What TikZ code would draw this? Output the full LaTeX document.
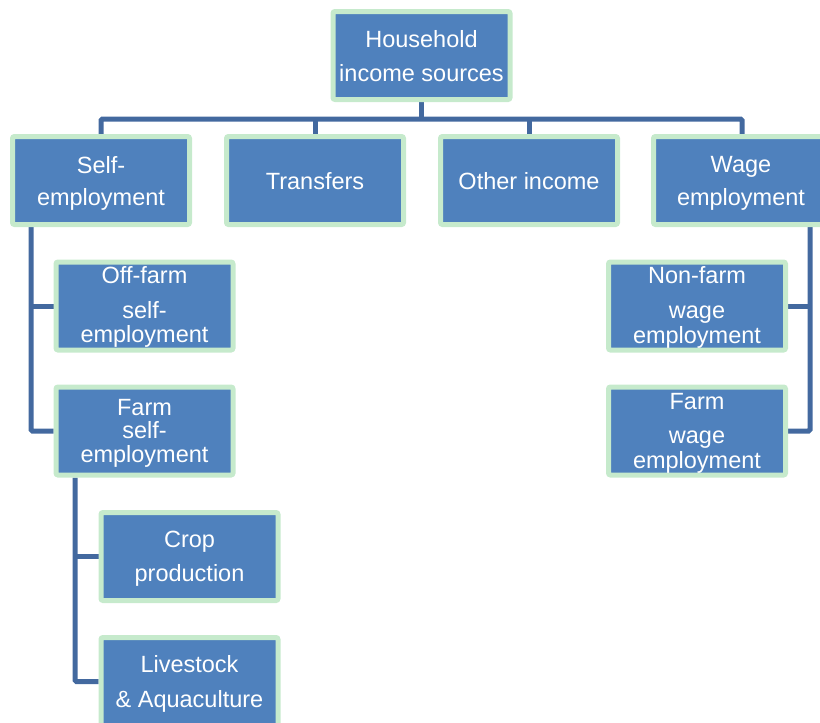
\documentclass[tikz,border=0pt]{standalone}
\usepackage{fontspec}
\setmainfont{Liberation Sans}
\usetikzlibrary{backgrounds}
\definecolor{boxblue}{HTML}{4F81BD}
\definecolor{boxgreen}{HTML}{C6EACC}
\definecolor{connblue}{HTML}{43699F}
\tikzset{
  box/.style={rectangle, rounded corners=2pt, fill=boxblue, draw=boxgreen, line width=5pt,
              minimum width=177pt, minimum height=88pt, inner sep=0pt},
  txt/.style={anchor=base, text=white, inner sep=0pt,
              font=\fontsize{23.5pt}{26pt}\selectfont},
  conn/.style={draw=connblue, line width=5pt, rounded corners=1.5pt}
}
\begin{document}
\begin{tikzpicture}[x=1pt, y=-1pt]
\useasboundingbox (0,0) rectangle (820,723);
\clip (0,0) rectangle (820,723);
% boxes
\node[box] (root) at (421.5,55.5) {};
\node[box] (se) at (101,180.5) {};
\node[box] (tr) at (315,180.5) {};
\node[box] (oi) at (529,180.5) {};
\node[box, minimum width=182pt] (we) at (744.5,180.5) {};
\node[box] (of) at (144.5,306) {};
\node[box] (fs) at (144.5,431) {};
\node[box] (nf) at (697,306) {};
\node[box] (fw) at (697,431) {};
\node[box] (cp) at (189.5,556.5) {};
\node[box] (la) at (189.5,681.5) {};
% coordinates
\coordinate (busy) at (0,119);
\coordinate (lx) at (31,0);
\coordinate (rx) at (810,0);
\coordinate (fx) at (75,0);
\coordinate (wx) at (742,0);
% connectors
\begin{scope}[on background layer]
\draw[conn] (root.south) -- (root.south |- busy);
\draw[conn] (se.north) |- (wx |- busy) -- (wx |- we.north);
\draw[conn] (tr.north) -- (tr.north |- busy);
\draw[conn] (oi.north) -- (oi.north |- busy);
\draw[conn] (se.south -| lx) |- (fs.west);
\draw[conn] (of.west) -- (of.west -| lx);
\draw[conn] (we.south -| rx) |- (fw.east);
\draw[conn] (nf.east) -- (nf.east -| rx);
\draw[conn] (fs.south -| fx) |- (la.west);
\draw[conn] (cp.west) -- (cp.west -| fx);
\end{scope}
% texts
\node[txt] (root1) at (421.5,47) {Household};
\node[txt] (root2) at (421.5,81) {income sources};
\node[txt] (se1) at (101,173) {Self-};
\node[txt] (se2) at (101,205) {employment};
\node[txt] (tr1) at (315,189) {Transfers};
\node[txt] (oi1) at (529,189) {Other income};
\node[txt] (we1) at (741,172) {Wage};
\node[txt] (we2) at (741,205) {employment};
\node[txt] (of1) at (144.5,283) {Off-farm};
\node[txt] (of2) at (144.5,318) {self-};
\node[txt] (of3) at (144.5,342) {employment};
\node[txt] (fs1) at (144.5,415) {Farm};
\node[txt] (fs2) at (144.5,438) {self-};
\node[txt] (fs3) at (144.5,462) {employment};
\node[txt] (nf1) at (697,283) {Non-farm};
\node[txt] (nf2) at (697,318) {wage};
\node[txt] (nf3) at (697,343) {employment};
\node[txt] (fw1) at (697,409) {Farm};
\node[txt] (fw2) at (697,443) {wage};
\node[txt] (fw3) at (697,468) {employment};
\node[txt] (cp1) at (189.5,547) {Crop};
\node[txt] (cp2) at (189.5,581) {production};
\node[txt] (la1) at (189.5,672) {Livestock};
\node[txt] (la2) at (189.5,707) {\& Aquaculture};
\end{tikzpicture}
\end{document}
